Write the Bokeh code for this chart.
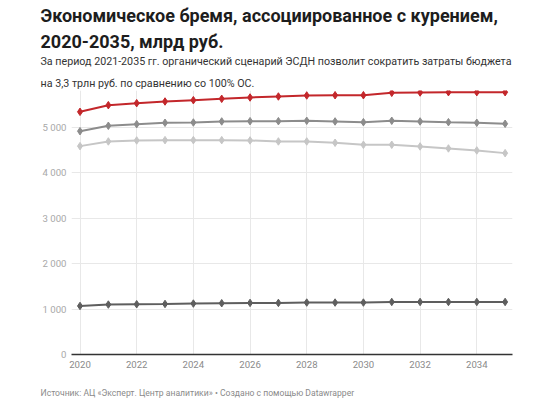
from bokeh.plotting import figure
from bokeh.models import Range1d, FixedTicker, Title
from bokeh.embed import file_html
from bokeh.resources import INLINE

# Economic burden associated with smoking, bn RUB, by scenario
years = list(range(2020, 2036))
scenario_top = [5340, 5486, 5530, 5567, 5596, 5626, 5655, 5677, 5699, 5705,
                5705, 5758, 5765, 5772, 5772, 5772]
scenario_mid = [4914, 5033, 5068, 5099, 5105, 5128, 5134, 5134, 5143, 5128,
                5112, 5143, 5128, 5112, 5099, 5077]
scenario_low = [4585, 4688, 4710, 4717, 4717, 4717, 4710, 4688, 4688, 4659,
                4615, 4615, 4578, 4534, 4490, 4431]
scenario_bottom = [1068, 1099, 1106, 1112, 1121, 1128, 1135, 1135, 1143, 1143,
                   1143, 1156, 1156, 1156, 1156, 1156]

x_ticks = [2020, 2022, 2024, 2026, 2028, 2030, 2032, 2034]
y_ticks = [0, 1000, 2000, 3000, 4000, 5000]
y_tick_labels = {0: "0", 1000: "1 000", 2000: "2 000", 3000: "3 000",
                 4000: "4 000", 5000: "5 000"}

title_text = "Экономическое бремя, ассоциированное с курением,\n2020-2035, млрд руб."
subtitle_text = ("За период 2021-2035 гг. органический сценарий ЭСДН позволит сократить затраты бюджета\n"
                 "на 3,3 трлн руб. по сравнению со 100% ОС.")
footer_text = "Источник: АЦ «Эксперт. Центр аналитики» • Создано с помощью Datawrapper"

FONT = "Roboto"

p = figure(width=557, height=400, output_backend="svg", toolbar_location=None,
           x_range=Range1d(2019.7, 2035.26), y_range=Range1d(0, 5809),
           min_border_left=71, min_border_right=45,
           min_border_top=90, min_border_bottom=46, title=None)
p.outline_line_color = None
p.background_fill_color = "white"
p.border_fill_color = "white"

# axes
p.xaxis.ticker = FixedTicker(ticks=x_ticks)
p.yaxis.ticker = FixedTicker(ticks=y_ticks)
p.yaxis.major_label_overrides = y_tick_labels
for ax in (p.xaxis, p.yaxis):
    ax.major_tick_line_color = None
    ax.minor_tick_line_color = None
    ax.major_tick_in = 0
    ax.major_tick_out = 0
    ax.major_label_text_font = FONT
    ax.major_label_text_font_size = "9.6px"
p.xaxis.major_label_text_color = "#8a8a8a"
p.yaxis.major_label_text_color = "#a8a8a8"
p.yaxis.axis_line_color = None
p.xaxis.axis_line_color = "#333333"
p.xaxis.axis_line_width = 1.5
p.xaxis.major_label_standoff = 6
p.yaxis.major_label_standoff = 5

p.xgrid.grid_line_color = "#e8e8e8"
p.ygrid.grid_line_color = "#e8e8e8"

series = [
    (scenario_low, "#c6c6c6"),
    (scenario_mid, "#8c8c8c"),
    (scenario_bottom, "#5e5e5e"),
    (scenario_top, "#c3272b"),
]
for vals, color in series:
    p.line(years, vals, line_color=color, line_width=2)
    p.scatter(years, vals, marker="diamond", size=7.5,
              fill_color=color, line_color=color)

# header: later-added titles sit farther from the plot area
p.add_layout(Title(text=subtitle_text, text_font=FONT, text_font_size="10.7px",
                   text_color="#333333", text_font_style="normal",
                   text_line_height=1.7, offset=-31, standoff=0), "above")
p.add_layout(Title(text=title_text, text_font=FONT, text_font_size="18px",
                   text_color="#1d1d1d", text_font_style="bold",
                   text_line_height=1.28, offset=-31, standoff=2), "above")
# footer, with an empty first line as spacing below the year labels
p.add_layout(Title(text="\n" + footer_text, text_font=FONT, text_font_size="8.6px",
                   text_color="#8a8a8a", text_font_style="normal",
                   text_line_height=1.3, offset=-31, standoff=5), "below")

open("out.html", "w").write(file_html(p, INLINE))
